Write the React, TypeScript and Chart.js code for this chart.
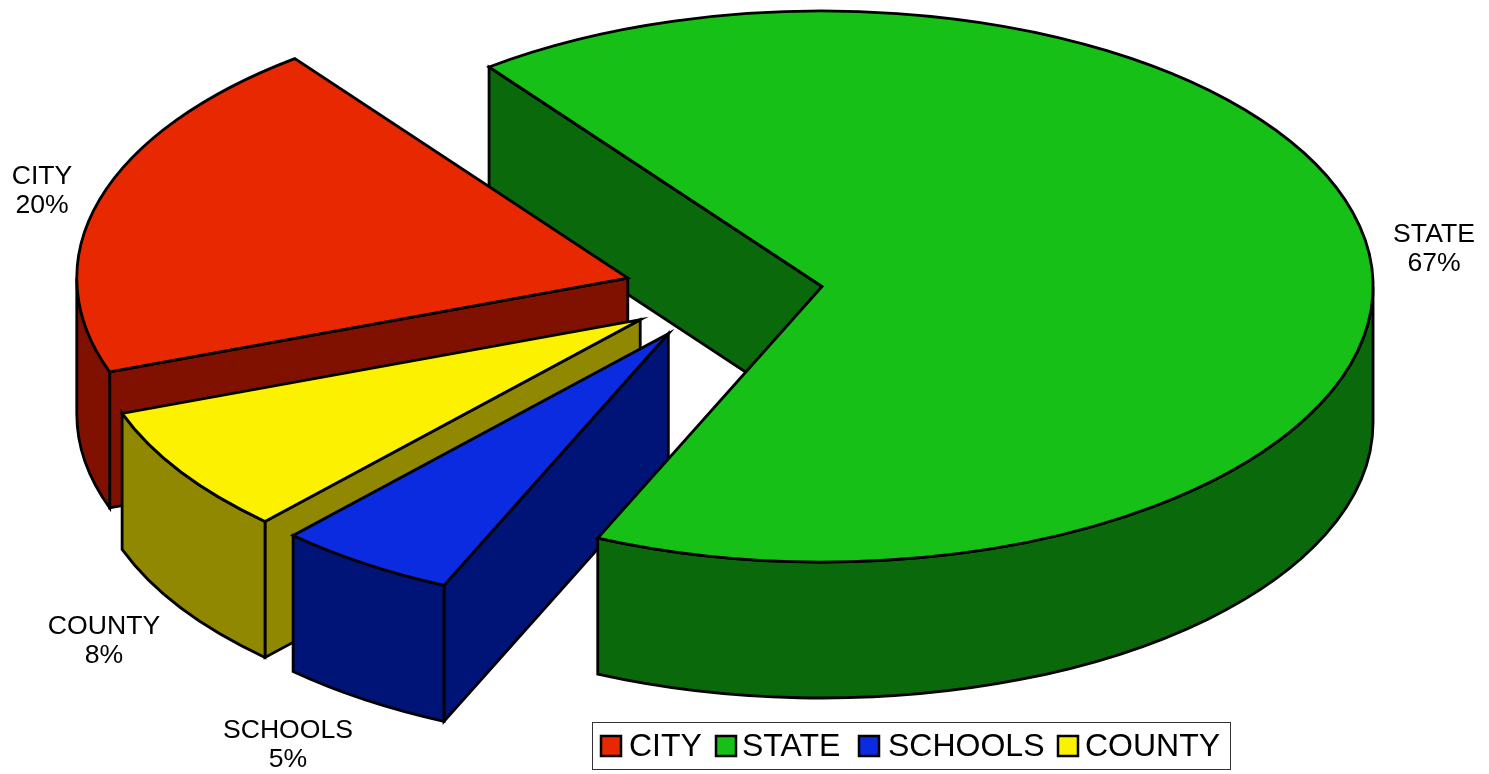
import React, { useEffect, useRef } from "react";
import { Chart, registerables } from "chart.js";

Chart.register(...registerables);

const categories = ["CITY", "STATE", "SCHOOLS", "COUNTY"];
const shares = [20.2, 67, 5.25, 7.55];
const topColors = ["#E82800", "#16C016", "#0A2BE0", "#FCF200"];
const wallColors = ["#801000", "#0A690A", "#001478", "#908800"];
const backWallFirst = "STATE";
const paintOrder = ["CITY", "COUNTY", "SCHOOLS", "STATE"];
const labelSpots = [
  [42, 177],
  [1434, 235],
  [288, 731],
  [104, 627],
];
const legendSwatchX = [601, 716, 859, 1058];
const legendTextX = [629, 742, 888, 1085];

const W = 1489;
const H = 774;
const CX = 723.2;
const CY = 292.2;
const RADIUS = 551;
const SQUASH = 0.5;
const DEPTH = 136;
const EXPLODE = 99.5;
const LW = 2.8;
const FONT = '"Liberation Sans", Arial, sans-serif';

const pie3d = {
  id: "pie3d",
  beforeDatasetDraw(chart: any) {
    const ctx: CanvasRenderingContext2D = chart.ctx;
    const arcs = chart.getDatasetMeta(0).data;
    ctx.save();
    ctx.lineWidth = LW;
    ctx.strokeStyle = "#000";
    ctx.lineJoin = "miter";

    const slice = (name: string) => {
      const i = categories.indexOf(name);
      const { x, y, startAngle: a1, endAngle: a2, outerRadius: r } = arcs[i].getProps(
        ["x", "y", "startAngle", "endAngle", "outerRadius"],
        true
      );
      const mid = (a1 + a2) / 2;
      const cx = x + Math.cos(mid) * EXPLODE;
      const cy = y + Math.sin(mid) * EXPLODE * SQUASH;
      const ry = r * SQUASH;
      const px = (a: number) => cx + r * Math.cos(a);
      const py = (a: number) => cy + ry * Math.sin(a);
      const paint = (fill: string) => {
        ctx.fillStyle = fill;
        ctx.fill();
        ctx.stroke();
      };
      const radialWall = (a: number) => {
        ctx.beginPath();
        ctx.moveTo(cx, cy);
        ctx.lineTo(px(a), py(a));
        ctx.lineTo(px(a), py(a) + DEPTH);
        ctx.lineTo(cx, cy + DEPTH);
        ctx.closePath();
        paint(wallColors[i]);
      };
      return {
        radials() {
          if (Math.cos(a1) < 0) radialWall(a1);
          if (Math.cos(a2) > 0) radialWall(a2);
        },
        body() {
          for (let k = -1; k <= 2; k++) {
            const from = Math.max(a1, 2 * Math.PI * k);
            const to = Math.min(a2, 2 * Math.PI * k + Math.PI);
            if (to <= from) continue;
            ctx.beginPath();
            ctx.ellipse(cx, cy, r, ry, 0, from, to);
            ctx.lineTo(px(to), py(to) + DEPTH);
            ctx.ellipse(cx, cy + DEPTH, r, ry, 0, to, from, true);
            ctx.closePath();
            paint(wallColors[i]);
          }
          ctx.beginPath();
          ctx.moveTo(cx, cy);
          ctx.ellipse(cx, cy, r, ry, 0, a1, a2);
          ctx.closePath();
          paint(topColors[i]);
        },
      };
    };

    slice(backWallFirst).radials();
    for (const name of paintOrder) {
      const s = slice(name);
      if (name !== backWallFirst) s.radials();
      s.body();
    }
    ctx.restore();
    return false;
  },
  afterDraw(chart: any) {
    const ctx: CanvasRenderingContext2D = chart.ctx;
    ctx.save();
    ctx.fillStyle = "#000";
    ctx.textAlign = "center";
    ctx.textBaseline = "middle";
    ctx.font = `26.6px ${FONT}`;
    categories.forEach((name, i) => {
      const [lx, ly] = labelSpots[i];
      ctx.fillText(name, lx, ly);
      ctx.fillText(`${Math.round(shares[i])}%`, lx, ly + 29);
    });
    ctx.fillStyle = "#fff";
    ctx.strokeStyle = "#333";
    ctx.lineWidth = 1;
    ctx.fillRect(592.5, 722.5, 638, 47);
    ctx.strokeRect(592.5, 722.5, 638, 47);
    ctx.textAlign = "left";
    ctx.font = `32px ${FONT}`;
    categories.forEach((name, i) => {
      ctx.fillStyle = topColors[i];
      ctx.strokeStyle = "#000";
      ctx.lineWidth = 2.5;
      ctx.fillRect(legendSwatchX[i], 736, 20, 20);
      ctx.strokeRect(legendSwatchX[i], 736, 20, 20);
      ctx.fillStyle = "#000";
      ctx.fillText(name, legendTextX[i], 747);
    });
    ctx.restore();
  },
};

export default function App() {
  const ref = useRef<HTMLCanvasElement>(null);
  useEffect(() => {
    document.body.style.margin = "0";
    const chart = new Chart(ref.current as HTMLCanvasElement, {
      type: "pie",
      data: {
        labels: categories,
        datasets: [{ data: shares, backgroundColor: topColors, borderColor: "#000" }],
      },
      options: {
        responsive: false,
        animation: false,
        rotation: 250.1,
        radius: RADIUS,
        layout: {
          padding: { left: 0, top: 0, right: W - 2 * CX, bottom: H - 2 * CY },
        },
        plugins: { legend: { display: false }, tooltip: { enabled: false } },
      },
      plugins: [pie3d],
    } as any);
    return () => chart.destroy();
  }, []);
  return <canvas ref={ref} width={W} height={H} style={{ display: "block", width: W, height: H }} />;
}
